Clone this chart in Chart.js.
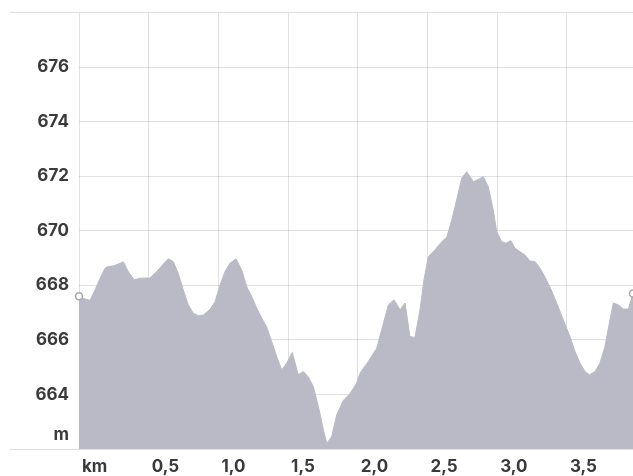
<!DOCTYPE html>
<html>
<head>
<meta charset="utf-8">
<script src="https://cdn.jsdelivr.net/npm/chart.js@4"></script>
<style>
  html, body { margin: 0; padding: 0; background: #fff; }
  #wrap { width: 633px; height: 476px; }
</style>
</head>
<body>
<div id="wrap"><canvas id="profil"></canvas></div>
<script>
// distance (km) and elevation (m) of the profile
var distKm = [0.000, 0.043, 0.079, 0.115, 0.151, 0.187, 0.210, 0.246, 0.282, 0.318,
    0.354, 0.395, 0.438, 0.509, 0.557, 0.605, 0.641, 0.676, 0.712, 0.748,
    0.784, 0.820, 0.856, 0.892, 0.940, 0.976, 1.011, 1.047, 1.083, 1.126,
    1.167, 1.203, 1.239, 1.275, 1.311, 1.346, 1.382, 1.418, 1.454, 1.490,
    1.530, 1.573, 1.609, 1.645, 1.681, 1.717, 1.753, 1.777, 1.813, 1.849,
    1.896, 1.944, 1.992, 2.016, 2.075, 2.136, 2.171, 2.219, 2.260, 2.303,
    2.339, 2.374, 2.410, 2.446, 2.475, 2.506, 2.554, 2.602, 2.638, 2.674,
    2.709, 2.745, 2.781, 2.829, 2.864, 2.900, 2.936, 2.972, 2.996, 3.032,
    3.063, 3.097, 3.128, 3.164, 3.199, 3.235, 3.271, 3.307, 3.343, 3.379,
    3.427, 3.474, 3.522, 3.558, 3.594, 3.630, 3.661, 3.702, 3.737, 3.773,
    3.804, 3.833, 3.869, 3.905, 3.941, 3.974]
var hoehe = [667.6, 667.5, 667.45, 667.83, 668.26, 668.63, 668.69, 668.71, 668.78, 668.86,
    668.50, 668.20, 668.26, 668.27, 668.50, 668.78, 668.97, 668.87, 668.44, 667.83,
    667.28, 666.98, 666.88, 666.91, 667.12, 667.4, 668.0, 668.5, 668.81, 668.97,
    668.56, 667.95, 667.59, 667.16, 666.8, 666.47, 665.94, 665.39, 664.9, 665.15,
    665.54, 664.72, 664.84, 664.64, 664.29, 663.56, 662.71, 662.2, 662.46, 663.26,
    663.78, 664.03, 664.42, 664.78, 665.21, 665.7, 666.37, 667.28, 667.47, 667.1,
    667.35, 666.12, 666.09, 667.1, 668.2, 669.05, 669.3, 669.6, 669.76, 670.39,
    671.13, 671.92, 672.16, 671.8, 671.88, 671.98, 671.61, 670.75, 669.97, 669.6,
    669.54, 669.64, 669.36, 669.23, 669.11, 668.89, 668.87, 668.63, 668.3, 667.93,
    667.35, 666.73, 666.12, 665.57, 665.15, 664.84, 664.72, 664.84, 665.15, 665.76,
    666.61, 667.35, 667.28, 667.13, 667.13, 667.7]

// y ticks: 662.53 only carries the unit label "m"
var yTickValues = [662, 662.53, 664, 666, 668, 670, 672, 674, 676, 678]
var yTickLabels = ['', 'm', '664', '666', '668', '670', '672', '674', '676', '']
var xTickLabels = {0: 'km', 0.5: '0,5', 1: '1,0', 1.5: '1,5', 2: '2,0', 2.5: '2,5', 3: '3,0', 3.5: '3,5'}

var punkte = distKm.map(function (d, i) { return {x: d, y: hoehe[i]} })
var letzter = punkte.length - 1

var labelFont = {family: 'Inter', size: 17, weight: '700'}
var gitter = '#e1e1e3'
var gitterInnen = 'rgba(40,40,60,0.14)'

var ctx = document.getElementById('profil').getContext('2d')
var myChart = new Chart(ctx, {
    type: 'line',
    data: {
        datasets: [{
            data: punkte,
            fill: 'start',
            clip: false,
            backgroundColor: '#b9bac5',
            borderColor: '#b9bac5',
            borderWidth: 1,
            tension: 0,
            pointRadius: function (c) { return (c.dataIndex === 0 || c.dataIndex === letzter) ? 3.5 : 0 },
            pointBackgroundColor: '#ffffff',
            pointBorderColor: '#a9a9ad',
            pointBorderWidth: 1.6,
            pointHoverRadius: 0
        }]
    },
    options: {
        responsive: true,
        maintainAspectRatio: false,
        animation: false,
        layout: {autoPadding: false, padding: {top: 12.5, right: 0, left: 0, bottom: 0}},
        plugins: {legend: {display: false}, tooltip: {enabled: false}},
        scales: {
            x: {
                type: 'linear',
                z: 1,
                min: 0,
                max: 3.974,
                afterFit: function (s) { s.height = 27 },
                border: {display: true, color: gitter, width: 1},
                grid: {color: gitterInnen, drawTicks: false},
                ticks: {
                    stepSize: 0.5,
                    includeBounds: false,
                    align: 'start',
                    labelOffset: 3,
                    padding: 8,
                    color: '#3a3a3a',
                    font: labelFont,
                    maxRotation: 0,
                    autoSkip: false,
                    callback: function (v) {
                        var k = Math.round(v * 10) / 10
                        return xTickLabels[k] !== undefined ? xTickLabels[k] : ''
                    }
                }
            },
            y: {
                z: 1,
                min: 662,
                max: 678,
                afterBuildTicks: function (s) {
                    s.ticks = yTickValues.map(function (v) { return {value: v} })
                },
                afterFit: function (s) { s.width = 79 },
                border: {display: false},
                grid: {
                    color: function (c) {
                        var v = c.tick ? c.tick.value : 0
                        if (v === 662.53 || v === 662) return 'rgba(0,0,0,0)'
                        if (v === 678) return gitter
                        return gitterInnen
                    },
                    drawTicks: true,
                    tickLength: 69,
                    tickColor: function (c) {
                        var v = c.tick ? c.tick.value : 0
                        return (v === 662 || v === 678) ? gitter : 'rgba(0,0,0,0)'
                    }
                },
                ticks: {
                    padding: -59,
                    color: '#3a3a3a',
                    font: labelFont,
                    autoSkip: false,
                    callback: function (v, i) { return yTickLabels[i] }
                }
            }
        }
    }
})
</script>
</body>
</html>
